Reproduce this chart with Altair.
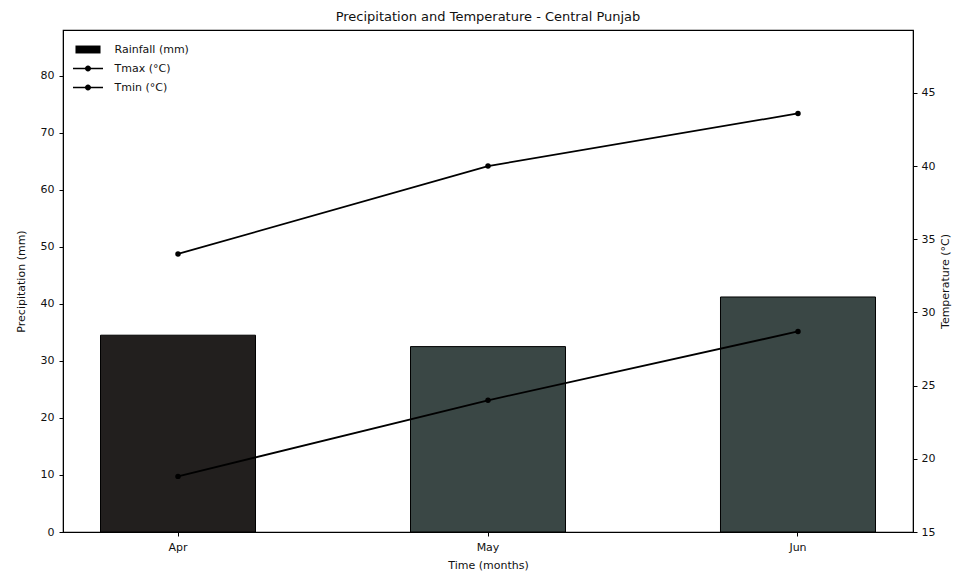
import altair as alt
import pandas as pd

months = ["Apr", "May", "Jun"]
rainfall = [34.5, 32.5, 41.2]
tmax = [34.0, 40.0, 43.6]
tmin = [18.8, 24.0, 28.7]
bar_colors = ["#221f1e", "#3a4745", "#3a4745"]
series = ["Rainfall (mm)", "Tmax (°C)", "Tmin (°C)"]
left_ticks = [0, 10, 20, 30, 40, 50, 60, 70, 80]
right_ticks = [15, 20, 25, 30, 35, 40, 45]

rain_df = pd.DataFrame({"month": months, "rain": rainfall})
temp_df = pd.DataFrame({
    "month": months * 2,
    "temp": tmax + tmin,
    "series": [series[1]] * 3 + [series[2]] * 3,
})
legend_df = pd.DataFrame({"series": series})

FONT = "DejaVu Sans"

x_enc = alt.X(
    "month:N", sort=months,
    scale=alt.Scale(domain=months, paddingInner=0.5, paddingOuter=0.121),
    axis=alt.Axis(title="Time (months)", labelAngle=0, tickSize=4, labelPadding=5,
                  titlePadding=7, bandPosition=0.5),
)

bars = alt.Chart(rain_df).mark_bar(stroke="black", strokeWidth=1).encode(
    x=x_enc,
    y=alt.Y("rain:Q", scale=alt.Scale(domain=[0, 88], nice=False, zero=False),
            axis=alt.Axis(title="Precipitation (mm)", orient="left", values=left_ticks,
                          tickSize=4, labelPadding=5, titlePadding=14)),
    fill=alt.Fill("month:N", scale=alt.Scale(domain=months, range=bar_colors), legend=None),
)

lines = alt.Chart(temp_df).mark_line(
    color="black", strokeWidth=1.8,
    point=alt.OverlayMarkDef(filled=True, color="black", size=30),
).encode(
    x=x_enc,
    y=alt.Y("temp:Q", scale=alt.Scale(domain=[15, 49.3], nice=False, zero=False),
            axis=alt.Axis(title="Temperature (°C)", orient="right", values=right_ticks,
                          tickSize=4, labelPadding=4, titlePadding=16, titleAngle=270)),
    detail="series:N",
)

rect_path = "M-1.67,-0.53H1.67V0.53H-1.67Z"
line_path = ("M-2,-0.1H2V0.1H-2Z "
             "M0.4,0A0.4,0.4,0,1,1,-0.4,0A0.4,0.4,0,1,1,0.4,0Z")

legend_layer = alt.Chart(legend_df).mark_point(filled=True, color="black", opacity=0).encode(
    shape=alt.Shape(
        "series:N",
        scale=alt.Scale(domain=series, range=[rect_path, line_path, line_path]),
        legend=alt.Legend(
            title=None, orient="none", legendX=17.5, legendY=12, padding=0,
            symbolSize=225, symbolOpacity=1, symbolFillColor="black",
            symbolStrokeColor="black", symbolStrokeWidth=0,
            labelFontSize=11, labelFont=FONT, labelColor="#111",
            labelOffset=19, rowPadding=6,
        ),
    ),
)

chart = alt.layer(bars, lines, legend_layer).resolve_scale(
    y="independent", shape="independent"
).properties(
    width=850, height=502,
    title=alt.TitleParams("Precipitation and Temperature - Central Punjab",
                          fontSize=13, font=FONT, fontWeight="normal", color="#111",
                          anchor="middle", offset=6),
    autosize=alt.AutoSizeParams(type="none"),
    padding={"left": 55, "top": 22, "right": 39, "bottom": 44},
).configure_view(
    stroke="black", strokeWidth=1.2,
).configure_axis(
    labelFont=FONT, titleFont=FONT, labelFontSize=11, titleFontSize=11,
    titleFontWeight="normal", labelColor="#111", titleColor="#111",
    domainColor="black", tickColor="black", grid=False,
)

chart.save("out.html", embed_options={"renderer": "svg", "actions": False})
